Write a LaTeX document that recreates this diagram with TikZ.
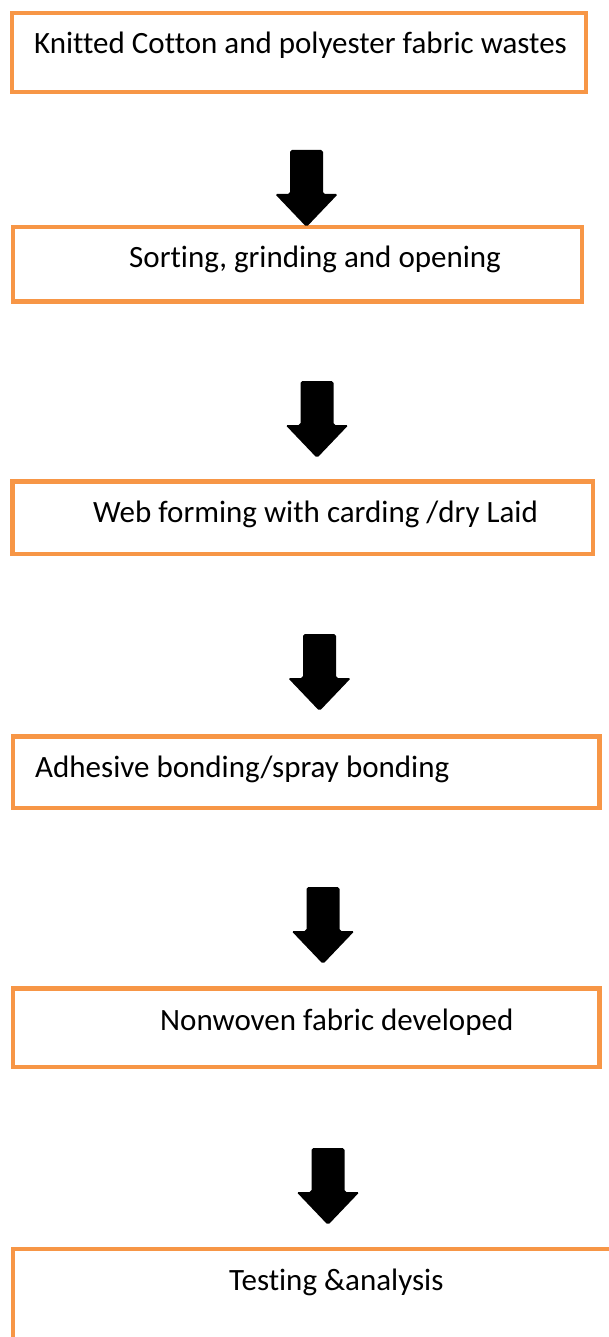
\documentclass[tikz,border=0pt]{standalone}
\usepackage{fontspec}
\setmainfont{Carlito}[Ligatures={NoCommon}]
\definecolor{boxorange}{HTML}{F79646}
\tikzset{
  stepbox/.style={draw=boxorange, line width=4.5pt, rectangle, inner sep=0pt, outer sep=0pt},
  steplabel/.style={anchor=base west, inner sep=0pt, font=\fontsize{31}{37}\selectfont},
  blockarrow/.pic={
    \fill[black, rounded corners=1.8pt]
      (-16.5,0) -- (16.5,0) -- (16.5,44) -- (31.5,44) -- (0,77)
      -- (-31.5,44) -- (-16.5,44) -- cycle;
  }
}
\begin{document}
\begin{tikzpicture}[x=1pt,y=-1pt]
\useasboundingbox (0,0) rectangle (609,1337);
\clip (0,0) rectangle (609,1337);

% process boxes
\node[stepbox, minimum width=574pt, minimum height=79pt] (b1) at (299,52.5) {};
\node[stepbox, minimum width=569pt, minimum height=74.5pt] (b2) at (297.25,264.5) {};
\node[stepbox, minimum width=580.5pt, minimum height=72.5pt] (b3) at (302.5,517.5) {};
\node[stepbox, minimum width=586.5pt, minimum height=71.5pt] (b4) at (306,772) {};
\node[stepbox, minimum width=586.5pt, minimum height=78.5pt] (b5) at (306,1027.5) {};
\node[stepbox, minimum width=627.25pt, minimum height=110.75pt] (b6) at (326.4,1304.6) {};

% labels
\node[steplabel] (t1) at (34,54) {Knitted Cotton and polyester fabric wastes};
\node[steplabel] (t2) at (129,268) {Sorting, grinding and opening};
\node[steplabel] (t3) at (93,522) {Web forming with carding /dry Laid};
\node[steplabel] (t4) at (35,777) {Adhesive bonding/spray bonding};
\node[steplabel] (t5) at (160,1030) {Nonwoven fabric developed};
\node[steplabel] (t6) at (229,1290) {Testing \&analysis};

% block arrows between the steps
\pic at (306.5,150) {blockarrow};
\pic at (317,381) {blockarrow};
\pic at (319.5,634) {blockarrow};
\pic at (323,887) {blockarrow};
\pic at (328,1148) {blockarrow};
\end{tikzpicture}
\end{document}
